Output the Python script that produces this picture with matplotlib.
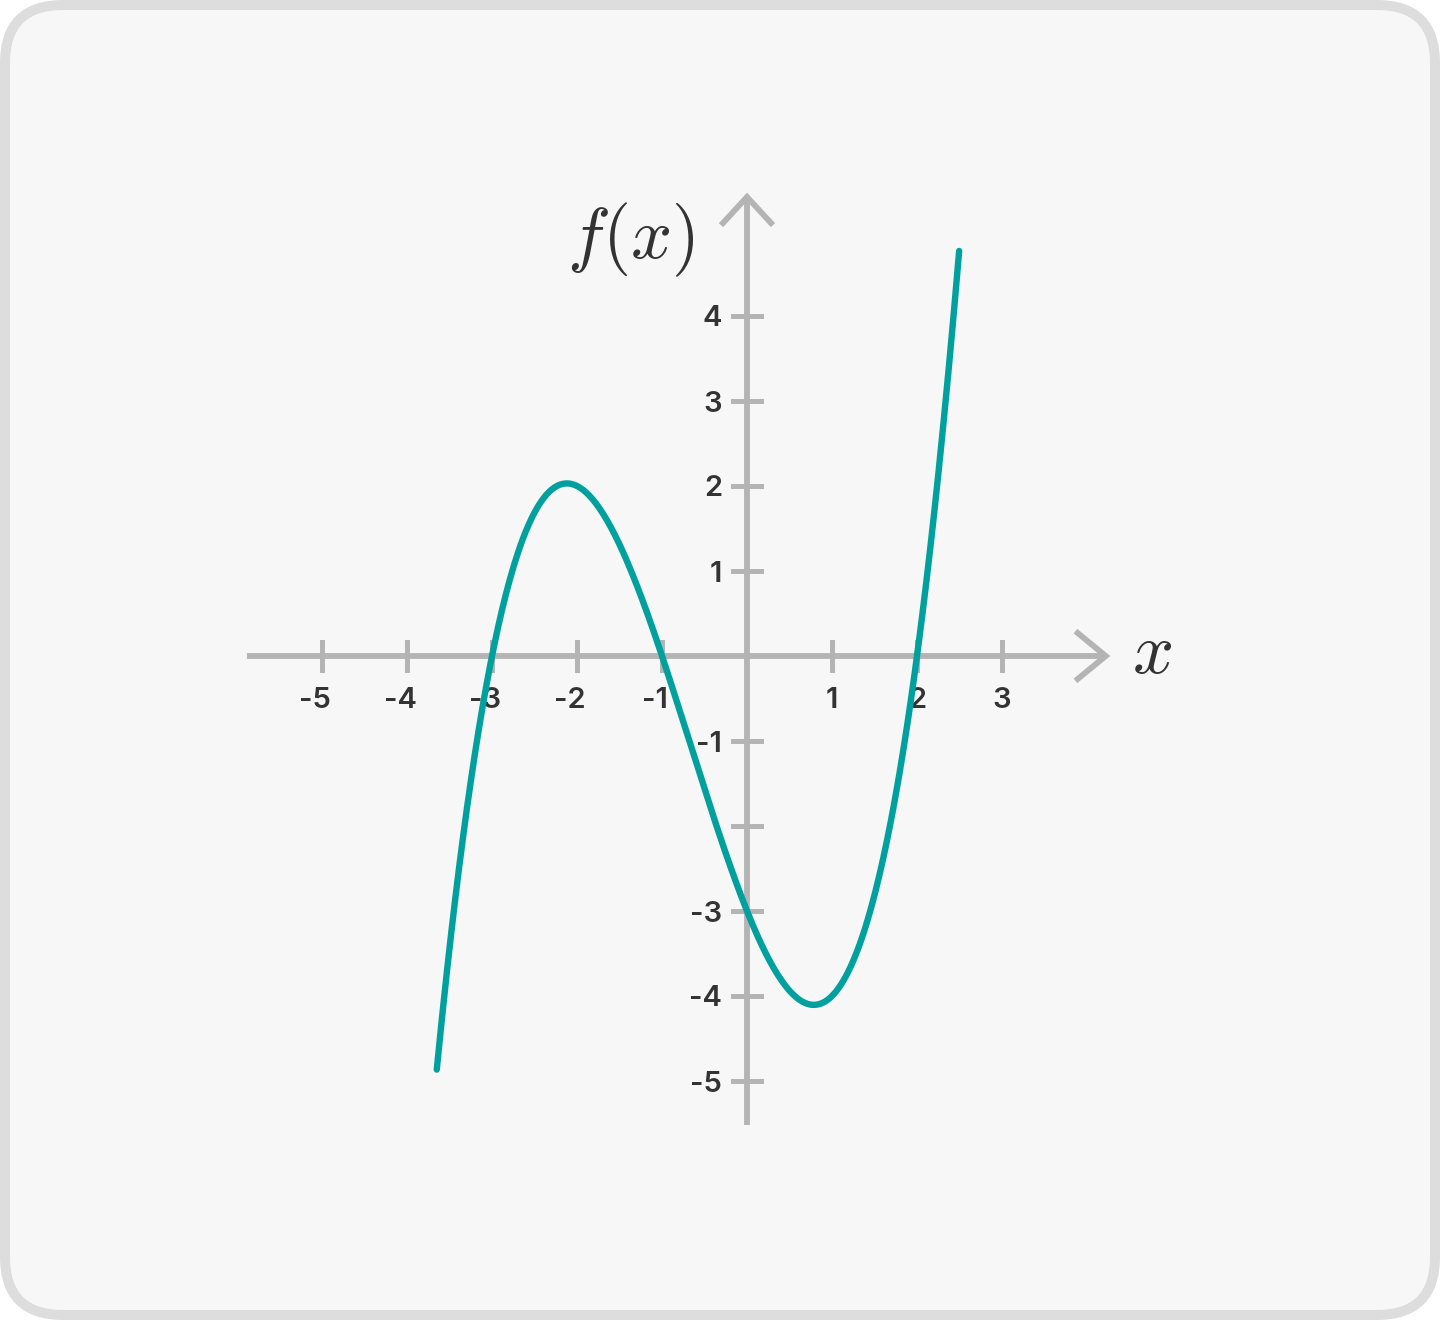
import numpy as np
import matplotlib.pyplot as plt
from matplotlib.patches import FancyBboxPatch

# curve: roots, leading factor and drawn range
roots = [-3, -1, 2]
lead = 0.5
x_start, x_end = -3.65, 2.496

x_ticks = [-5, -4, -3, -2, -1, 1, 2, 3]
x_tick_labels = ['-5', '-4', '-3', '-2', '-1', '1', '2', '3']
y_ticks = [-5, -4, -3, -2, -1, 1, 2, 3, 4]
y_tick_labels = ['-5', '-4', '-3', '', '-1', '1', '2', '3', '4']

axis_color = '#b4b4b4'
curve_color = '#00a09f'
text_color = '#333333'

W, H = 1440, 1320
UNIT = 85.0          # pixels per data unit
X0, Y0 = 747, 656    # pixel position of the origin

fig = plt.figure(figsize=(W / 100, H / 100), dpi=100)
fig.patch.set_facecolor('white')

# card background
bg = fig.add_axes([0, 0, 1, 1])
bg.set_xlim(0, W)
bg.set_ylim(H, 0)
bg.axis('off')
bg.add_patch(FancyBboxPatch((5, 5), W - 10, H - 10,
                            boxstyle='round,pad=0,rounding_size=58',
                            facecolor='#f7f7f7', edgecolor='#dddddd', lw=7.2))

ax = fig.add_axes([0, 0, 1, 1])
ax.patch.set_alpha(0)
ax.set_xlim(-X0 / UNIT, (W - X0) / UNIT)
ax.set_ylim(-(H - Y0) / UNIT, Y0 / UNIT)
ax.axis('off')

px = 1 / UNIT
lw_axis = 4.2

# axes lines
ax.plot([-5.88, 4.2], [0, 0], color=axis_color, lw=lw_axis, solid_capstyle='butt', zorder=1)
ax.plot([0, 0], [-5.52, 5.38], color=axis_color, lw=lw_axis, solid_capstyle='butt', zorder=1)

# open arrow heads
tip = 4.22
ax.plot([tip - 28 * px, tip, tip - 28 * px], [23 * px, 0, -23 * px],
        color=axis_color, lw=lw_axis, solid_joinstyle='miter', zorder=1)
tip = 5.40
ax.plot([-24 * px, 0, 24 * px], [tip - 26 * px, tip, tip - 26 * px],
        color=axis_color, lw=lw_axis, solid_joinstyle='miter', zorder=1)

# ticks
for t in x_ticks:
    ax.plot([t, t], [-14 * px, 14 * px], color=axis_color, lw=3.6, zorder=1)
for t in y_ticks:
    ax.plot([-14 * px, 14 * px], [t, t], color=axis_color, lw=3.6, zorder=1)

font = dict(family=['Inter', 'DejaVu Sans'], fontsize=21, fontweight='semibold', color=text_color)
for t, lab in zip(x_ticks, x_tick_labels):
    shift = -7 * px if lab.startswith('-') else 0
    ax.text(t + shift, -41 * px, lab, ha='center', va='center_baseline', zorder=2, **font)
for t, lab in zip(y_ticks, y_tick_labels):
    if lab:
        ax.text(-25 * px, t, lab, ha='right', va='center_baseline', zorder=2, **font)

plt.rcParams['mathtext.fontset'] = 'cm'
ax.text(-116 * px, (Y0 - 258) * px, r'$f(x)$', ha='center', va='baseline',
        fontsize=52, color=text_color, zorder=2)
ax.text((1152 - X0) * px, -17 * px, r'$x$', ha='center', va='baseline',
        fontsize=52, color=text_color, zorder=2)

# the curve
xs = np.linspace(x_start, x_end, 400)
ys = lead * np.prod([xs - r for r in roots], axis=0)
ax.plot(xs, ys, color=curve_color, lw=4.6, solid_capstyle='round', zorder=3)

fig.savefig('out.png', dpi=100)
